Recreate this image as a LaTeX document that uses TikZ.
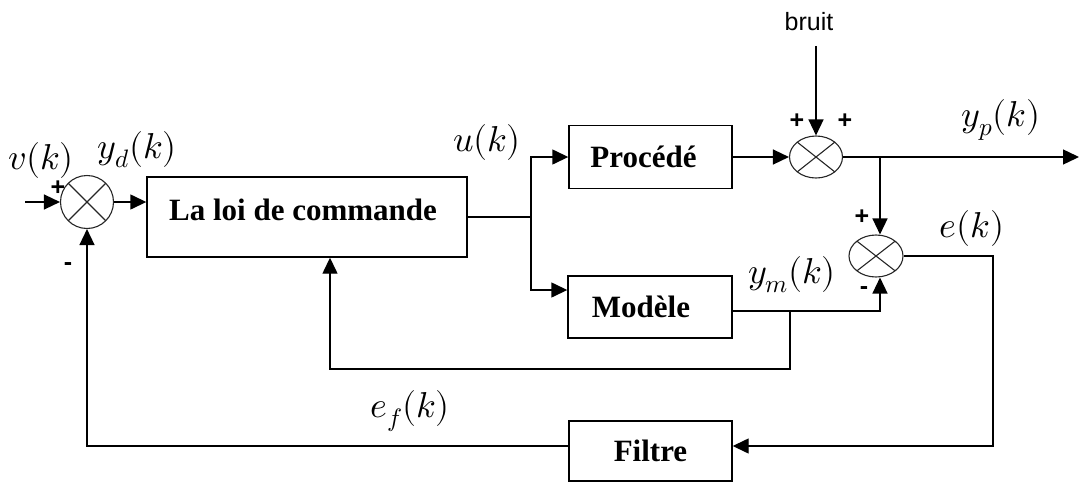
\documentclass[tikz,border=0pt]{standalone}
\usepackage{fontspec}
\usepackage{unicode-math}
\setmainfont{Liberation Serif}
\newfontfamily\labelsans{Liberation Sans}
\usetikzlibrary{arrows.meta,shapes.geometric,calc}

\begin{document}
\begin{tikzpicture}[x=1pt,y=-1pt,
  line width=1.4pt,
  >={Triangle[length=16pt,width=15pt]},
  blk/.style={draw, rectangle, line width=1.4pt,
    font=\fontsize{31}{34}\selectfont\bfseries, inner sep=0pt},
  sum/.style={draw=black!85, ellipse, line width=1.1pt, inner sep=0pt,
    minimum width=53pt, minimum height=42pt,
    path picture={\draw[line width=1.1pt, black!85]
      (path picture bounding box.north west) -- (path picture bounding box.south east)
      (path picture bounding box.north east) -- (path picture bounding box.south west);}},
  sig/.style={font=\fontsize{36}{38}\selectfont, inner sep=0pt},
  sgn/.style={font=\labelsans\bfseries\fontsize{25}{27}\selectfont, inner sep=0pt},
]
\useasboundingbox (0,0) rectangle (1079,482);

% summing junctions
\node[sum, minimum width=53pt, minimum height=53pt] (s1) at (87,202) {};
\node[sum] (s2) at (816,157) {};
\node[sum, minimum width=54pt] (s3) at (876,256) {};

% blocks (trailing space keeps the labels a little left of centre)
\node[blk, minimum width=320pt, minimum height=80pt, text depth=14pt] (loi) at (307,217) {La loi de commande\hspace*{8pt}};
\node[blk, minimum width=163pt, minimum height=63pt] (proc) at (650.5,157) {Procédé\hspace*{14pt}};
\node[blk, minimum width=164pt, minimum height=62pt] (mod) at (650,307) {Modèle\hspace*{18pt}};
\node[blk, minimum width=163pt, minimum height=60pt] (filt) at (650.5,451) {Filtre};

% signal names
\node[sig] (lv) at (41,160) {$v(k)$};
\node[sig] (lyd) at (137,150) {$y_d(k)$};
\node[sig] (lu) at (487,142) {$u(k)$};
\node[sig] (lyp) at (1001,120) {$y_p(k)$};
\node[sig] (lym) at (792,275) {$y_m(k)$};
\node[sig] (le) at (972,228) {$e(k)$};
\node[sig] (lef) at (410,411) {$e_f(k)$};
\node[font=\labelsans\fontsize{25}{27}\selectfont, inner sep=0pt] (bruit) at (809,22) {bruit};

% signs at the junctions
\node[sgn] (p1) at (58,188) {+};
\node[sgn] (m1) at (68,267) {-};
\node[sgn] (p2a) at (797,121) {+};
\node[sgn] (p2b) at (845,121) {+};
\node[sgn] (p3) at (862,217) {+};
\node[sgn] (m3) at (864,291) {-};

% helper points of the wiring
\coordinate (in) at (25,202);
\coordinate (bu) at (531,217);
\coordinate (yo) at (1079,157);
\coordinate (b2) at (880,157);
\coordinate (b3) at (790,311);
\coordinate (fb) at (790,369);
\coordinate (ec) at (993,446);

% forward path
\draw[->] (in) -- (s1.west);
\draw[->] (s1.east) -- (s1.east -| loi.west);
\draw (loi.east) -- (bu);
\draw[->] (bu) |- (proc.west);
\draw[->] (bu) |- ([yshift=17pt]mod.west);
\draw[->] (proc.east) -- (s2.west);
\draw[->, shorten <=14pt] (bruit.south -| s2.north) -- (s2.north);
\draw[->] (s2.east) -- (yo);

% model error
\draw[->] (b2) -- (b2 |- s3.north);
\draw[->] ([yshift=-4pt]mod.east) -| (b2 |- s3.south);
\draw[->] (b3) -- (fb) -| ([xshift=23pt]loi.south);

% filtered feedback
\draw[->] (s3.east) -| (ec) -- ([yshift=5pt]filt.east);
\draw[->] ([yshift=5pt]filt.west) -| (s1.south);
\end{tikzpicture}
\end{document}
